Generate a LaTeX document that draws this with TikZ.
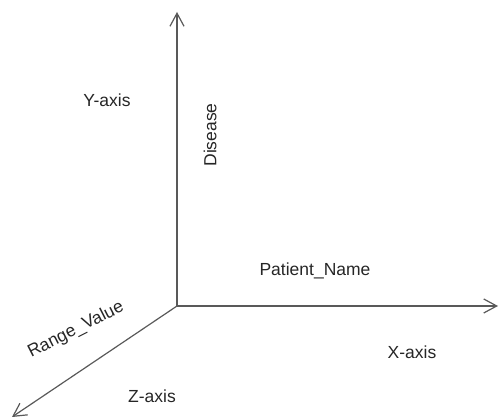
\documentclass[tikz,border=0pt]{standalone}
\usepackage{fontspec}
\setmainfont{Liberation Sans}
\usetikzlibrary{arrows.meta}

\begin{document}
\begin{tikzpicture}[x=1pt, y=-1pt,
    axis/.style={draw=black!65, line width=1.2pt, -{Straight Barb[length=13pt, width=14pt]}},
    lbl/.style={font=\fontsize{17.5}{20}\selectfont, text=black!85, inner sep=0pt}]
    \useasboundingbox (0,0) rectangle (499,419);
    \coordinate (origin) at (177,306);
    \coordinate (ytip) at (177,12);
    \coordinate (xtip) at (498,306);
    \coordinate (ztip) at (12,417);
    \draw [axis] (origin) -- (ytip);
    \draw [axis] (origin) -- (xtip);
    \draw [axis] (origin) -- (ztip);
    \node [lbl] (yname) at (107,100) {Y-axis};
    \node [lbl, rotate=90] (disease) at (210,135) {Disease};
    \node [lbl] (patient) at (315,271) {Patient\_Name};
    \node [lbl] (xname) at (412,352) {X-axis};
    \node [lbl, rotate=27] (range) at (76,330) {Range\_Value};
    \node [lbl] (zname) at (152,396) {Z-axis};
\end{tikzpicture}
\end{document}
